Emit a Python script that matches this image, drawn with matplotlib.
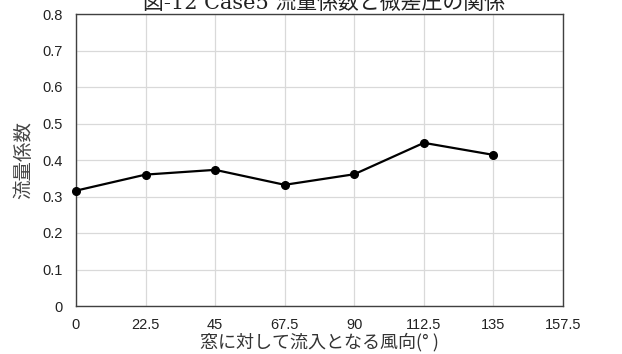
import matplotlib
matplotlib.use("Agg")
import matplotlib.pyplot as plt

plt.rcParams["font.family"] = ["Liberation Sans", "Noto Sans CJK JP", "DejaVu Sans"]

# ── Data ──────────────────────────────────────────────────────────────────────
angles = [0, 22.5, 45, 67.5, 90, 112.5, 135]
flow_coef = [0.316, 0.360, 0.373, 0.332, 0.361, 0.447, 0.414]
xticks = [0, 22.5, 45, 67.5, 90, 112.5, 135, 157.5]
xtick_labels = ["0", "22.5", "45", "67.5", "90", "112.5", "135", "157.5"]
yticks = [0, 0.1, 0.2, 0.3, 0.4, 0.5, 0.6, 0.7, 0.8]
ytick_labels = ["0", "0.1", "0.2", "0.3", "0.4", "0.5", "0.6", "0.7", "0.8"]

fig = plt.figure(figsize=(6.22, 3.54), dpi=100)
ax = fig.add_axes([76 / 622, 1 - 306 / 354, (563 - 76) / 622, (306 - 14) / 354])

ax.plot(angles, flow_coef, color="black", linewidth=1.6, marker="o",
        markersize=5.5, zorder=3, clip_on=False)

ax.set_xlim(0, 157.5)
ax.set_ylim(0, 0.8)
ax.set_xticks(xticks)
ax.set_xticklabels(xtick_labels)
ax.set_yticks(yticks)
ax.set_yticklabels(ytick_labels)
ax.tick_params(length=0, labelsize=10.5, labelcolor="#222222")
ax.tick_params(axis="y", pad=9.5)
ax.tick_params(axis="x", pad=8.5)
ax.grid(True, color="#d9d9d9", linewidth=0.9)
ax.set_axisbelow(True)
for sp in ax.spines.values():
    sp.set_color("#404040")
    sp.set_linewidth(1.0)

ax.set_xlabel("窓に対して流入となる風向(° )", fontsize=13, color="#333333",
              labelpad=1, family=["Noto Sans CJK JP", "DejaVu Sans"])
ax.set_ylabel("流量係数", fontsize=14, color="#444444", labelpad=6,
              family=["Noto Sans CJK JP", "DejaVu Sans"])

# title is partly cut off at the top edge, as in the source figure
fig.text(324 / 622, 1 - 9 / 354, "図-12 Case5 流量係数と微差圧の関係",
         ha="center", va="baseline", fontsize=15,
         family=["DejaVu Serif", "Noto Sans CJK JP"], color="#222222")

fig.savefig("out.png", dpi=100)
